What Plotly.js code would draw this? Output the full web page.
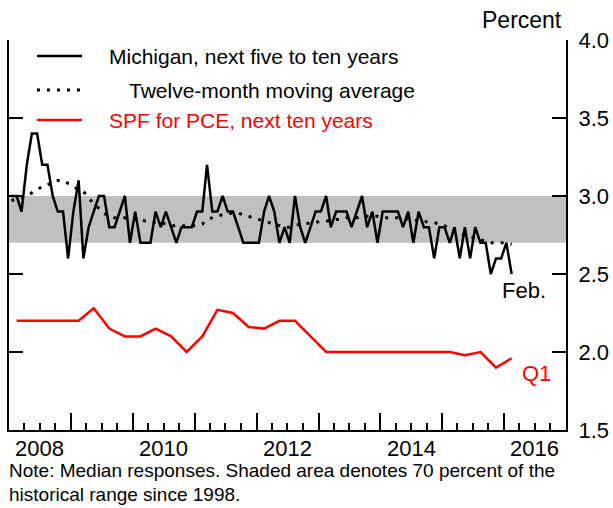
<!DOCTYPE html>
<html><head><meta charset="utf-8">
<script src="https://cdn.plot.ly/plotly-3.0.1.min.js"></script>
<style>html,body{margin:0;padding:0;background:#fff;}#chart{width:613px;height:508px;}</style>
</head><body><div id="chart"></div>
<script>
// Michigan survey, next five to ten years, monthly from Jan 2008 to Feb 2016
const michiganStartYear = 2008;
const michigan = [
  3.0,3.0,2.9,3.2,3.4,3.4,3.2,3.2,3.0,2.9,2.9,2.6,
  2.9,3.1,2.6,2.8,2.9,3.0,3.0,2.8,2.8,2.9,3.0,2.7,
  2.9,2.7,2.7,2.7,2.9,2.8,2.9,2.8,2.7,2.8,2.8,2.8,
  2.9,2.9,3.2,2.9,2.9,3.0,2.9,2.9,2.8,2.7,2.7,2.7,
  2.7,2.9,3.0,2.9,2.7,2.8,2.7,3.0,2.8,2.7,2.8,2.9,
  2.9,3.0,2.8,2.9,2.9,2.9,2.8,2.9,3.0,2.8,2.9,2.7,
  2.9,2.9,2.9,2.9,2.8,2.9,2.7,2.9,2.8,2.8,2.6,2.8,
  2.8,2.7,2.8,2.6,2.8,2.6,2.8,2.7,2.7,2.5,2.6,2.6,
  2.7,2.5
];
// Twelve-month moving average
const movingAvg = [
  2.97,2.98,2.99,3.00,3.02,3.04,3.06,3.07,3.09,3.10,3.10,3.08,
  3.06,3.04,3.03,2.99,2.95,2.92,2.89,2.87,2.86,2.86,2.86,2.85,
  2.85,2.85,2.84,2.84,2.83,2.83,2.82,2.81,2.81,2.81,2.81,2.81,
  2.81,2.82,2.85,2.86,2.87,2.88,2.89,2.89,2.89,2.88,2.87,2.86,
  2.85,2.84,2.83,2.82,2.81,2.80,2.80,2.81,2.82,2.82,2.83,2.83,
  2.84,2.84,2.84,2.85,2.85,2.86,2.86,2.86,2.87,2.87,2.87,2.87,
  2.86,2.86,2.86,2.86,2.86,2.85,2.85,2.84,2.84,2.83,2.83,2.82,
  2.81,2.79,2.78,2.76,2.75,2.74,2.73,2.72,2.71,2.70,2.70,2.70,
  2.70,2.69
];
// SPF for PCE, next ten years, quarterly from 2008 Q1 to 2016 Q1
const spfStartYear = 2008;
const spf = [
  2.20,2.20,2.20,2.20,
  2.20,2.28,2.15,2.10,
  2.10,2.15,2.10,2.00,
  2.10,2.27,2.25,2.16,
  2.15,2.20,2.20,2.10,
  2.00,2.00,2.00,2.00,
  2.00,2.00,2.00,2.00,
  2.00,1.98,2.00,1.90,
  1.96
];
const bandRange = [2.7, 3.0];   // 70 percent of historical range since 1998
const yTicks = [1.5, 2.0, 2.5, 3.0, 3.5, 4.0];
const yearLabels = ['2008','2010','2012','2014','2016'];
const legendLabels = ['Michigan, next five to ten years','Twelve-month moving average','SPF for PCE, next ten years'];
const noteText = ['Note: Median responses. Shaded area denotes 70 percent of the','historical range since 1998.'];

function pad(n){return (n<10?'0':'')+n;}
const michDates = michigan.map((v,i)=> (michiganStartYear+Math.floor(i/12))+'-'+pad(i%12+1)+'-15');
const spfDates = spf.map((v,i)=> (spfStartYear+Math.floor(i/4))+'-'+pad(3*(i%4)+2)+'-15');
const labelDates = yearLabels.map(y=> y+'-07-01');

const W=613,H=508, L=9, R=47, T=40, B=78;
const pw=W-L-R, ph=H-T-B;
const px=x=>(x-L)/pw, py=y=>(H-B-y)/ph;
const FONT='Liberation Sans, Arial, sans-serif';
const xRange=['2008-01-01','2017-01-01'];

const traces = [
  {x:spfDates, y:spf, type:'scatter', mode:'lines', line:{color:'#ff0000', width:2.5}, hoverinfo:'skip'},
  {x:michDates, y:michigan, type:'scatter', mode:'lines', line:{color:'#000', width:2.5}, hoverinfo:'skip'},
  {x:michDates, y:movingAvg, type:'scatter', mode:'lines', line:{color:'#000', width:3, dash:'3px,7px'}, hoverinfo:'skip'}
];

const anns = [
  {text:legendLabels[0], x:px(107), y:py(57), xanchor:'left', yanchor:'middle', font:{size:21,color:'#000'}},
  {text:legendLabels[1], x:px(127), y:py(90), xanchor:'left', yanchor:'middle', font:{size:21,color:'#000'}},
  {text:legendLabels[2], x:px(107), y:py(120), xanchor:'left', yanchor:'middle', font:{size:21,color:'#ff0000'}},
  {text:'Feb.', x:px(500), y:py(290), xanchor:'left', yanchor:'middle', font:{size:22,color:'#000'}},
  {text:'Q1', x:px(520), y:py(373), xanchor:'left', yanchor:'middle', font:{size:22,color:'#ff0000'}},
  {text:'Percent', x:px(564), y:py(20), xanchor:'right', yanchor:'middle', font:{size:23,color:'#000'}},
  {text:noteText[0], x:px(7), y:py(470), xanchor:'left', yanchor:'middle', font:{size:19,color:'#000'}},
  {text:noteText[1], x:px(7), y:py(494), xanchor:'left', yanchor:'middle', font:{size:19,color:'#000'}}
].map(a=>Object.assign({xref:'paper', yref:'paper', showarrow:false}, a));

// year labels, centred on mid-year between the year-boundary ticks
yearLabels.forEach((lab,i)=>{
  anns.push({text:lab, x:labelDates[i], xref:'x', y:py(448), yref:'paper', xanchor:'center', yanchor:'middle',
    showarrow:false, font:{size:22,color:'#000'}});
});

const shapes = [
  {type:'rect', xref:'x', yref:'y', x0:xRange[0], x1:xRange[1], y0:bandRange[0], y1:bandRange[1], fillcolor:'#c0c0c0', line:{width:0}, layer:'below'},
  {type:'line', xref:'paper', yref:'paper', x0:px(37), x1:px(82), y0:py(56), y1:py(56), line:{color:'#000', width:2.5}},
  {type:'line', xref:'paper', yref:'paper', x0:px(37), x1:px(84), y0:py(90), y1:py(90), line:{color:'#000', width:3, dash:'3px,7px'}},
  {type:'line', xref:'paper', yref:'paper', x0:px(37), x1:px(82), y0:py(120), y1:py(120), line:{color:'#ff0000', width:2.5}}
];

const layout = {
  width:W, height:H, margin:{l:L, r:R, t:T, b:B, pad:0},
  paper_bgcolor:'#fff', plot_bgcolor:'#fff', showlegend:false,
  font:{family:FONT, size:21, color:'#000'},
  xaxis:{type:'date', range:xRange, showline:true, linecolor:'#000', linewidth:2,
    ticks:'inside', ticklen:17, tickwidth:2, tickcolor:'#000', tick0:'2008-01-01', dtick:'M12',
    showticklabels:false, showgrid:false, zeroline:false, layer:'above traces',
    minor:{ticks:'inside', ticklen:7, tickwidth:2, tickcolor:'#000', tick0:'2008-01-01', dtick:'M3', showgrid:false}},
  yaxis:{range:[1.5,4.0], side:'right', showline:true, linecolor:'#000', linewidth:2, mirror:'ticks',
    ticks:'inside', ticklen:14, tickwidth:2, tickcolor:'#000', tickmode:'array', tickvals:yTicks,
    tickformat:'.1f', tickfont:{size:22}, showgrid:false, zeroline:false, ticklabelstandoff:6},
  annotations:anns, shapes:shapes
};
Plotly.newPlot('chart', traces, layout, {staticPlot:true, displayModeBar:false});
</script></body></html>
